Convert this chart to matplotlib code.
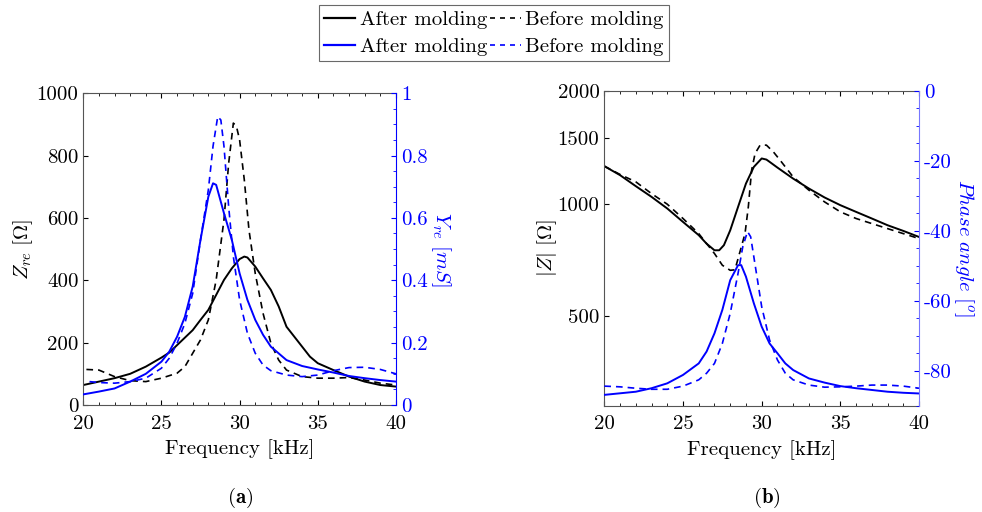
import numpy as np
import matplotlib
matplotlib.use("Agg")
import matplotlib.pyplot as plt
from matplotlib.lines import Line2D
from matplotlib.ticker import MultipleLocator, FixedLocator, NullLocator, NullFormatter, FuncFormatter

plt.rcParams['font.family'] = 'serif'
plt.rcParams['font.serif'] = ['cmr10', 'DejaVu Serif']
plt.rcParams['mathtext.fontset'] = 'cm'
plt.rcParams['axes.formatter.use_mathtext'] = False
plt.rcParams['axes.unicode_minus'] = False

# ---------------- Data (a) ----------------
f_zre_after = [20, 22, 23, 24, 25, 25.5, 26, 27, 27.5, 28, 28.5, 29, 29.5, 30, 30.3, 30.5, 31, 31.5,
               32, 32.5, 33, 33.5, 34, 34.5, 35, 36, 37, 38, 39, 40]
zre_after = [64, 86, 100, 123, 152, 168, 192, 240, 273, 305, 353, 401, 438, 468, 476, 473, 444, 406,
             369, 316, 251, 219, 187, 155, 134, 112, 91, 75, 64, 59]

f_zre_before = [20.2, 21, 22, 23, 24, 25, 26, 26.5, 27, 27.5, 28, 28.5, 29, 29.3, 29.6, 29.8, 30, 30.3,
                30.6, 31, 31.5, 32, 32.5, 33, 34, 35, 36, 37, 38, 39, 40]
zre_before = [114, 112, 91, 78, 75, 86, 102, 123, 166, 209, 273, 401, 594, 775, 904, 893, 850, 722,
              561, 422, 294, 198, 144, 112, 91, 86, 86, 88, 80, 70, 64]

f_yre_after = [20, 21, 22, 23, 24, 25, 25.5, 26, 26.5, 27, 27.5, 28, 28.3, 28.5, 29, 29.5, 30, 30.5,
               31, 31.5, 32, 33, 34, 35, 36, 37, 38, 39, 40]
yre_after = [0.034, 0.043, 0.053, 0.075, 0.10, 0.139, 0.171, 0.219, 0.283, 0.38, 0.53, 0.668, 0.711,
             0.706, 0.615, 0.53, 0.422, 0.337, 0.273, 0.225, 0.187, 0.144, 0.125, 0.114, 0.104,
             0.093, 0.086, 0.080, 0.075]

f_yre_before = [20.4, 21, 22, 23, 24, 25, 25.5, 26, 26.5, 27, 27.5, 28, 28.3, 28.6, 28.8, 29, 29.3,
                29.6, 30, 30.5, 31, 31.5, 32, 33, 34, 35, 36, 37, 38, 39, 40]
yre_before = [0.075, 0.072, 0.07, 0.075, 0.086, 0.118, 0.15, 0.198, 0.262, 0.358, 0.53, 0.69, 0.83,
              0.925, 0.914, 0.83, 0.636, 0.476, 0.337, 0.23, 0.166, 0.128, 0.11, 0.096, 0.091,
              0.096, 0.11, 0.12, 0.121, 0.114, 0.10]

# ---------------- Data (b) ----------------
f_z_after = [20, 21, 22, 23, 24, 25, 26, 26.5, 27, 27.3, 27.6, 28, 28.5, 29, 29.5, 30, 30.3, 30.5,
             31, 32, 33, 34, 35, 36, 37, 38, 39, 40]
z_after = [1259, 1191, 1113, 1042, 970, 893, 823, 781, 750, 750, 774, 848, 980, 1131, 1253, 1320,
           1311, 1293, 1248, 1166, 1097, 1038, 990, 950, 912, 875, 845, 814]

f_z_before = [20, 21, 22, 23, 24, 25, 26, 27, 27.5, 28, 28.3, 28.94, 29.15, 29.36, 29.58, 29.9,
              30.3, 30.74, 31.17, 32, 33, 34, 35, 36, 37, 38, 39, 40]
z_before = [1259, 1196, 1143, 1063, 996, 912, 831, 735, 684, 663, 665, 831, 979, 1228, 1361, 1433,
            1433, 1375, 1306, 1178, 1086, 1010, 950, 912, 884, 857, 831, 806]

f_ph_after = [20, 22, 23, 24, 25, 26, 26.5, 27, 27.5, 28, 28.5, 28.7, 29, 29.5, 30, 30.5, 31, 31.5,
              32, 33, 34, 35, 36, 37, 38, 39, 40]
ph_after = [-86.9, -86.0, -85.0, -83.6, -81.2, -77.9, -74.5, -69.3, -62.6, -54.1, -49.8, -49.8,
            -53.1, -60.7, -67.4, -72.2, -75.0, -77.9, -79.8, -82.2, -83.4, -84.4, -85.0, -85.5,
            -86.0, -86.3, -86.5]

f_ph_before = [20, 21, 22, 23, 24, 25, 26, 26.5, 27, 27.5, 28, 28.5, 28.8, 29.1, 29.3, 29.5, 30,
               30.5, 31, 31.5, 32, 33, 34, 35, 36, 37, 38, 39, 40]
ph_before = [-84.4, -84.6, -85.0, -85.3, -85.3, -84.4, -82.6, -80.7, -77.9, -72.2, -63.6, -52.1,
             -44.5, -40.2, -41.7, -47.4, -61.7, -71.2, -76.9, -80.7, -82.6, -84.1, -84.7, -84.6,
             -84.4, -84.1, -84.1, -84.4, -85.0]

BLUE = '#0000ff'
FS = 15
DASH = (0, (4, 3))

fig = plt.figure(figsize=(9.82, 5.12), dpi=100)
fmt_g = FuncFormatter(lambda v, p: '%g' % v)

def style_x(ax):
    ax.set_xlim(20, 40)
    ax.xaxis.set_major_locator(MultipleLocator(5))
    ax.xaxis.set_minor_locator(MultipleLocator(1))
    ax.xaxis.set_major_formatter(fmt_g)
    ax.tick_params(axis='x', which='both', direction='in', top=True, labelsize=FS, pad=7)
    ax.tick_params(axis='x', which='major', length=3.5)
    ax.tick_params(axis='x', which='minor', length=2)
    ax.set_xlabel('Frequency [kHz]', fontsize=FS, labelpad=5)

# ---------- (a) ----------
ax1 = fig.add_axes([0.0848, 0.209, 0.3184, 0.609])
ax1.plot(f_zre_after, zre_after, color='black', lw=1.4)
ax1.plot(f_zre_before, zre_before, color='black', lw=1.2, ls=DASH)
ax1.set_ylim(0, 1000)
ax1.yaxis.set_major_locator(MultipleLocator(200))
ax1.yaxis.set_major_formatter(fmt_g)
ax1.tick_params(axis='y', which='major', direction='in', length=3.5, labelsize=FS, right=False)
style_x(ax1)
ax1.set_ylabel(r'$Z_{re}\ [\Omega]$', fontsize=FS, labelpad=1)
ax1.spines['right'].set_visible(False)
for s in ['left', 'top', 'bottom']:
    ax1.spines[s].set_color('#555555')

ax1b = ax1.twinx()
ax1b.plot(f_yre_after, yre_after, color=BLUE, lw=1.4)
ax1b.plot(f_yre_before, yre_before, color=BLUE, lw=1.2, ls=DASH)
ax1b.set_ylim(0, 1)
ax1b.yaxis.set_major_locator(FixedLocator([0, 0.2, 0.4, 0.6, 0.8, 1]))
ax1b.yaxis.set_major_formatter(fmt_g)
ax1b.yaxis.set_minor_locator(MultipleLocator(0.05))
ax1b.tick_params(axis='y', which='both', direction='in', colors=BLUE, labelsize=FS)
ax1b.tick_params(axis='y', which='major', length=3.5)
ax1b.tick_params(axis='y', which='minor', length=2)
ax1b.spines['right'].set_color(BLUE)
for s in ['left', 'top', 'bottom']:
    ax1b.spines[s].set_visible(False)
ax1b.set_ylabel(r'$Y_{re}\ [mS]$', fontsize=FS, color=BLUE, rotation=270, labelpad=18)

# ---------- (b) ----------
ax2 = fig.add_axes([0.6154, 0.2076, 0.3205, 0.6147])
ax2.plot(f_z_after, z_after, color='black', lw=1.4)
ax2.plot(f_z_before, z_before, color='black', lw=1.2, ls=DASH)
ax2.set_yscale('log')
ax2.set_ylim(288, 2000)
ax2.yaxis.set_major_locator(FixedLocator([500, 1000, 1500, 2000]))
ax2.yaxis.set_major_formatter(FuncFormatter(lambda v, p: '%d' % v))
ax2.yaxis.set_minor_locator(NullLocator())
ax2.yaxis.set_minor_formatter(NullFormatter())
ax2.tick_params(axis='y', which='major', direction='in', length=3.5, labelsize=FS, right=False)
style_x(ax2)
ax2.set_ylabel(r'$|Z|\ [\Omega]$', fontsize=FS, labelpad=-1)
ax2.spines['right'].set_visible(False)
for s in ['left', 'top', 'bottom']:
    ax2.spines[s].set_color('#555555')

ax2b = ax2.twinx()
ax2b.plot(f_ph_after, ph_after, color=BLUE, lw=1.4)
ax2b.plot(f_ph_before, ph_before, color=BLUE, lw=1.2, ls=DASH)
ax2b.set_ylim(-90, 0)
ax2b.yaxis.set_major_locator(FixedLocator([-80, -60, -40, -20, 0]))
ax2b.yaxis.set_major_formatter(FuncFormatter(lambda v, p: '%d' % v))
ax2b.yaxis.set_minor_locator(MultipleLocator(5))
ax2b.tick_params(axis='y', which='both', direction='in', colors=BLUE, labelsize=FS)
ax2b.tick_params(axis='y', which='major', length=3.5)
ax2b.tick_params(axis='y', which='minor', length=2)
ax2b.spines['right'].set_color('#7777ff')
for s in ['left', 'top', 'bottom']:
    ax2b.spines[s].set_visible(False)
ax2b.set_ylabel(r'$Phase\ angle\ [^o]$', fontsize=FS, color=BLUE, rotation=270, labelpad=17)

# ---------- legend ----------
handles = [Line2D([], [], color='black', lw=1.6),
           Line2D([], [], color=BLUE, lw=1.6),
           Line2D([], [], color='black', lw=1.2, ls=(0, (3, 3))),
           Line2D([], [], color=BLUE, lw=1.2, ls=(0, (3, 3)))]
labels = ['After molding', 'After molding', 'Before molding', 'Before molding']
leg = fig.legend(handles, labels, ncol=2, loc='upper center', bbox_to_anchor=(0.503, 0.99),
                 fontsize=FS, frameon=True, fancybox=False, edgecolor='#444444',
                 handlelength=1.5, handletextpad=0.2, columnspacing=0.15, labelspacing=0.4,
                 borderpad=0.25, borderaxespad=0)
leg.get_frame().set_linewidth(0.8)

fig.text(0.2445, 0.018, r'$\mathbf{(a)}$', fontsize=FS, ha='center')
fig.text(0.781, 0.018, r'$\mathbf{(b)}$', fontsize=FS, ha='center')

fig.savefig('out.png', dpi=100)
